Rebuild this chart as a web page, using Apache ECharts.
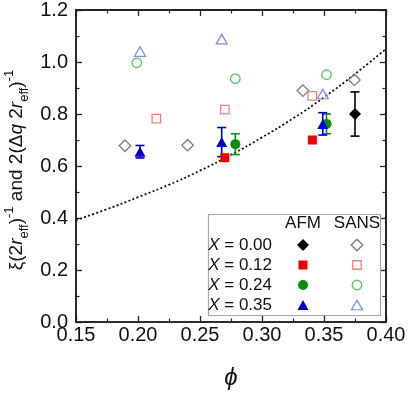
<!DOCTYPE html>
<html><head><meta charset="utf-8">
<script src="https://cdn.jsdelivr.net/npm/echarts@6/dist/echarts.min.js"></script>
<style>html,body{margin:0;padding:0;background:#fff}#c{width:408px;height:393px}</style>
</head><body><div id="c"></div>
<script>
// ---- data ----
const xTicks = [0.15, 0.20, 0.25, 0.30, 0.35, 0.40];
const yTicks = [0.0, 0.2, 0.4, 0.6, 0.8, 1.0, 1.2];
const legendRows = ['0.00', '0.12', '0.24', '0.35'];
const legendCols = ['AFM', 'SANS'];

// AFM (filled) : [phi, value, error]
const afm000 = [[0.375, 0.80, 0.085]];
const afm012 = [[0.270, 0.632, 0], [0.3406, 0.700, 0]];
const afm024 = [[0.2785, 0.684, 0.040], [0.352, 0.762, 0.038]];
const afm035 = [[0.2016, 0.655, 0.024], [0.2675, 0.692, 0.056], [0.349, 0.762, 0.043]];

// SANS (open) : [phi, value]
const sans000 = [[0.1895, 0.678], [0.240, 0.680], [0.333, 0.890], [0.3745, 0.931]];
const sans012 = [[0.2148, 0.782], [0.270, 0.817], [0.3406, 0.870]];
const sans024 = [[0.199, 0.997], [0.2785, 0.936], [0.352, 0.951]];
const sans035 = [[0.2016, 1.040], [0.2675, 1.088], [0.349, 0.877]];

// dotted guide curve
const curvePhi = [0.15, 0.175, 0.20, 0.225, 0.25, 0.275, 0.30, 0.325, 0.35, 0.375, 0.40];
const curveVal = [0.392, 0.434, 0.480, 0.528, 0.582, 0.643, 0.710, 0.783, 0.864, 0.954, 1.050];

const FONT = 'Liberation Sans, Arial, sans-serif';
const chart = echarts.init(document.getElementById('c'));

const C = { k: '#000000', r: '#ee0000', g: '#0c8c0c', b: '#0000c8',
  kO: '#7a7a7a', rO: '#f58080', gO: '#4ccc5e', bO: '#8090e6' };

// marker styles for each X row: [symbol, filledSize, hollowSize, filledColor, hollowColor]
const styles = [
  ['diamond', 12, 11.5, C.k, C.kO],
  ['rect', 9, 8.5, C.r, C.rO],
  ['circle', 10, 9.5, C.g, C.gO],
  ['triangle', [11, 10], [11, 9.5], C.b, C.bO]
];
const afmSets = [afm000, afm012, afm024, afm035];
const sansSets = [sans000, sans012, sans024, sans035];

function errSeries(data, color) {
  return {
    type: 'custom', xAxisIndex: 0, yAxisIndex: 0, z: 3, silent: true,
    data: data.filter(d => d[2] > 0),
    renderItem: function (params, api) {
      const x = api.value(0), y = api.value(1), e = api.value(2);
      const top = api.coord([x, y + e]), bot = api.coord([x, y - e]);
      const w = 4.5;
      const st = { stroke: color, lineWidth: 1.6 };
      return { type: 'group', children: [
        { type: 'line', shape: { x1: top[0], y1: top[1], x2: bot[0], y2: bot[1] }, style: st },
        { type: 'line', shape: { x1: top[0] - w, y1: top[1], x2: top[0] + w, y2: top[1] }, style: st },
        { type: 'line', shape: { x1: bot[0] - w, y1: bot[1], x2: bot[0] + w, y2: bot[1] }, style: st }
      ]};
    }
  };
}
function filledStyle(color) { return { color: color, opacity: 1 }; }
function hollowStyle(color) { return { color: 'rgba(255,255,255,0)', borderColor: color, borderWidth: 1.3, opacity: 1 }; }

function axisStyle() {
  return {
    axisLine: { show: true, onZero: false, lineStyle: { color: '#222', width: 1.6 } },
    axisTick: { inside: true, length: 6, lineStyle: { color: '#222', width: 1.3 } },
    minorTick: { show: true, splitNumber: 2, length: 3.5, lineStyle: { color: '#222', width: 1.2 } },
    splitLine: { show: false }
  };
}

// frame edge along the top of the plot, drawn through the axes' scales
const topEdge = {
  type: 'custom', xAxisIndex: 0, yAxisIndex: 0, z: 20, silent: true, clip: false,
  data: [[xTicks[0], xTicks[xTicks.length - 1], yTicks[yTicks.length - 1]]],
  renderItem: function (params, api) {
    const a = api.coord([api.value(0), api.value(2)]);
    const b = api.coord([api.value(1), api.value(2)]);
    return { type: 'line', shape: { x1: a[0], y1: a[1], x2: b[0], y2: b[1] },
      style: { stroke: '#222', lineWidth: 1.6 } };
  }
};

const series = [
  { type: 'line', z: 2, data: curvePhi.map((p, i) => [p, curveVal[i]]), smooth: true, symbol: 'none',
    lineStyle: { color: '#111', width: 1.8, type: [2, 2.3] }, silent: true },
  errSeries(afm000, C.k), errSeries(afm024, C.g), errSeries(afm035, C.b),
  topEdge
];
styles.forEach((s, i) => {
  series.push({ type: 'scatter', z: 5, symbol: s[0], symbolSize: s[1],
    data: afmSets[i].map(d => [d[0], d[1]]), itemStyle: filledStyle(s[3]) });
  series.push({ type: 'scatter', z: 4, symbol: s[0], symbolSize: s[2],
    data: sansSets[i], itemStyle: hollowStyle(s[4]) });
  // legend markers, placed on the small legend grid by category
  series.push({ type: 'scatter', xAxisIndex: 2, yAxisIndex: 2, z: 12, symbol: s[0], symbolSize: s[1],
    data: [[legendCols[0], legendRows[i]]], itemStyle: filledStyle(s[3]), silent: true });
  series.push({ type: 'scatter', xAxisIndex: 2, yAxisIndex: 2, z: 12, symbol: s[0], symbolSize: s[2],
    data: [[legendCols[1], legendRows[i]]], itemStyle: hollowStyle(s[4]), silent: true });
});

const option = {
  animation: false,
  grid: [
    { left: 76, right: 22, top: 10, bottom: 71, show: true, borderColor: '#222', borderWidth: 1.6,
      backgroundColor: 'rgba(0,0,0,0)', outerBoundsMode: 'none', containLabel: false },
    { left: 276, right: 24, top: 235, bottom: 78, z: 11, outerBoundsMode: 'none', containLabel: false }
  ],
  xAxis: [
    Object.assign({ type: 'value', gridIndex: 0, min: 0.15, max: 0.40, interval: 0.05, position: 'bottom',
      name: 'ϕ', nameLocation: 'middle', nameGap: 44,
      nameTextStyle: { fontFamily: FONT, fontSize: 24, fontStyle: 'italic', color: '#111' },
      axisLabel: { fontFamily: FONT, fontSize: 20, color: '#111', margin: 3,
        formatter: v => v.toFixed(2) } }, axisStyle()),
    Object.assign({ type: 'value', gridIndex: 0, min: 0.15, max: 0.40, interval: 0.05, position: 'top',
      axisLabel: { show: false } }, axisStyle()),
    { type: 'category', gridIndex: 1, data: legendCols, position: 'top',
      axisLine: { show: false }, axisTick: { show: false }, splitLine: { show: false },
      axisLabel: { interval: 0, fontFamily: FONT, fontSize: 17, color: '#111', margin: 3 }, z: 12 }
  ],
  yAxis: [
    Object.assign({ type: 'value', gridIndex: 0, min: 0, max: 1.2, interval: 0.2, position: 'left',
      axisLabel: { fontFamily: FONT, fontSize: 20, color: '#111', margin: 8,
        formatter: v => v.toFixed(1) } }, axisStyle()),
    Object.assign({ type: 'value', gridIndex: 0, min: 0, max: 1.2, interval: 0.2, position: 'right',
      axisLabel: { show: false } }, axisStyle()),
    { type: 'category', gridIndex: 1, data: legendRows, inverse: true,
      axisLine: { show: false }, axisTick: { show: false }, splitLine: { show: false }, z: 12,
      axisLabel: { interval: 0, fontFamily: FONT, fontSize: 17, color: '#111', margin: 4, align: 'right',
        formatter: v => '{i|X} = ' + v,
        rich: { i: { fontStyle: 'italic', fontSize: 17, fontFamily: FONT, color: '#111' } } } }
  ],
  graphic: [
    { type: 'rect', z: 1, shape: { x: 208.5, y: 214.5, width: 172, height: 101 },
      style: { fill: '#fff', stroke: '#a8a8a8', lineWidth: 1.2 } },
    { type: 'text', z: 10, x: 17, y: 170, rotation: Math.PI / 2,
      style: {
        text: '{n|ξ(2}{i|r}{s|eff}{n|)}{p|-1}{n| and 2(Δ}{i|q}{n| 2}{i|r}{s|eff}{n|)}{p|-1}',
        align: 'center', verticalAlign: 'middle', fill: '#111',
        rich: {
          n: { fontFamily: FONT, fontSize: 19, lineHeight: 28 },
          i: { fontFamily: FONT, fontSize: 19, lineHeight: 28, fontStyle: 'italic' },
          s: { fontFamily: FONT, fontSize: 13, lineHeight: 16, verticalAlign: 'bottom' },
          p: { fontFamily: FONT, fontSize: 13, lineHeight: 16, verticalAlign: 'top' }
        }
      } }
  ],
  series: series
};
chart.setOption(option);
</script></body></html>
